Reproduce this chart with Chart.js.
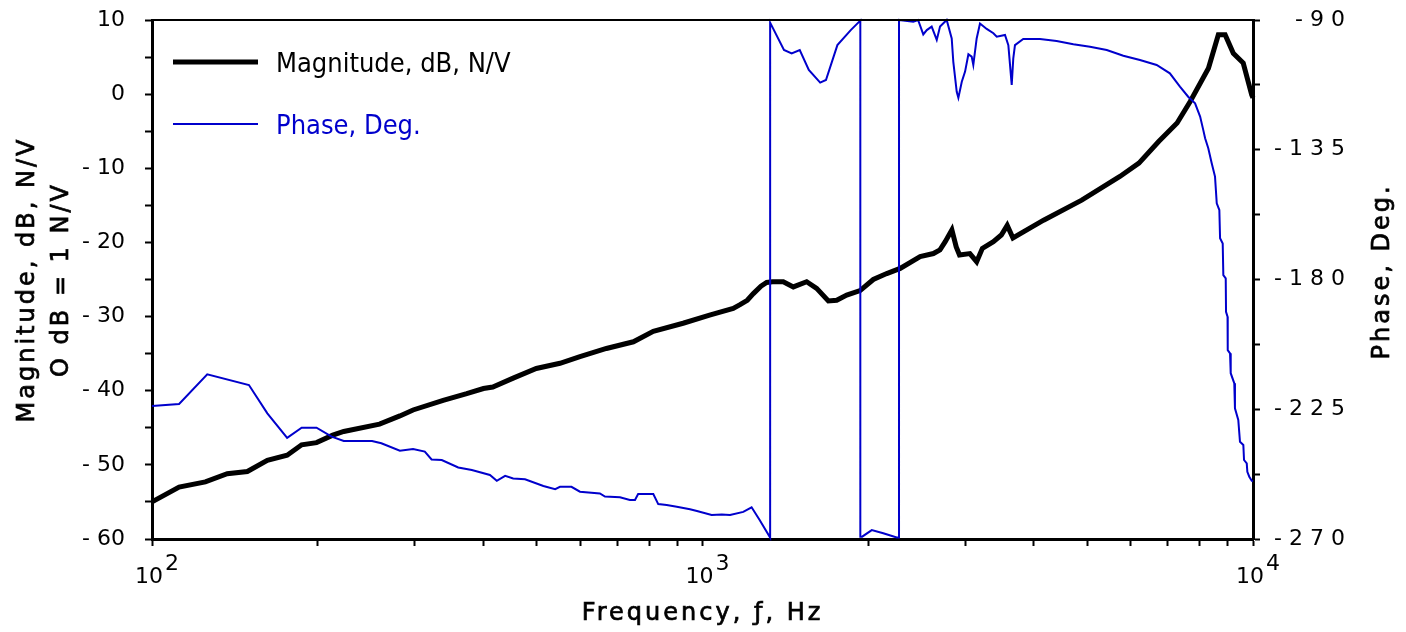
<!DOCTYPE html>
<html>
<head>
<meta charset="utf-8">
<title>Magnitude and phase response</title>
<script src="https://cdn.jsdelivr.net/npm/chart.js@4.4.1/dist/chart.umd.min.js"></script>
<style>
  html, body { margin: 0; padding: 0; background: #fff; }
  #wrap { width: 1406px; height: 632px; }
</style>
</head>
<body>
<div id="wrap"><canvas id="bode" width="1406" height="632"></canvas></div>
<script>
// measured frequency response, force per volt of drive
const magFreqHz = [100, 112, 125, 137, 149, 162, 176, 187, 199, 213, 223, 259, 282, 298, 338, 373, 400, 416, 453, 499,
  551, 599, 669, 749, 814, 922, 1030, 1137, 1170, 1206, 1237, 1277, 1308, 1340, 1402, 1462, 1546, 1612, 1693, 1753,
  1828, 1933, 2043, 2161, 2286, 2485, 2627, 2700, 2760, 2838, 2890, 2930, 3060, 3148, 3224, 3376, 3490, 3577, 3664,
  4165, 4885, 5731, 6206, 6740, 7280, 7690, 8300, 8650, 8900, 9209, 9600, 9947, 10000]
const magnitudeDb = [-55.0, -53.0, -52.3, -51.2, -50.9, -49.4, -48.7, -47.3, -47.0, -46.0, -45.5, -44.5, -43.4, -42.6,
  -41.3, -40.4, -39.7, -39.5, -38.3, -37.0, -36.3, -35.4, -34.3, -33.4, -32.0, -30.9, -29.8, -28.9, -28.4, -27.8,
  -26.9, -25.9, -25.4, -25.3, -25.3, -26.0, -25.3, -26.2, -27.9, -27.8, -27.1, -26.5, -25.0, -24.2, -23.5, -21.9,
  -21.5, -21.0, -19.9, -18.3, -20.6, -21.7, -21.5, -22.6, -20.8, -19.9, -19.0, -17.7, -19.4, -17.0, -14.3, -11.1,
  -9.3, -6.4, -3.9, -1.0, 3.5, 8.0, 8.0, 5.5, 4.2, -0.1, -0.5]

// phase wraps at -270/-90, hence the repeated frequencies
const phaseFreqHz = [100, 112, 126, 150, 162, 176, 187, 199, 212, 223, 251, 261, 282, 298, 313, 322, 336, 360, 381,
  411, 423, 438, 453, 476, 514, 540, 551, 578, 599, 651, 665, 708, 738, 754, 764, 814, 831, 861, 898, 949, 977, 1039,
  1084, 1122, 1186, 1228, 1270, 1327, 1327, 1406, 1452, 1502, 1560, 1636, 1676, 1758, 1859, 1935, 1935, 1950, 2030,
  2130, 2253, 2275, 2275, 2415, 2464, 2518, 2555, 2608, 2664, 2701, 2777, 2836, 2855, 2896, 2916, 2958, 2999, 3041,
  3083, 3104, 3148, 3192, 3283, 3376, 3424, 3544, 3594, 3645, 3669, 3695, 3825, 4102, 4398, 4717, 5057, 5424, 5813,
  6232, 6683, 7063, 7367, 7625, 7848, 8016, 8123, 8185, 8294, 8414, 8531, 8593, 8687, 8713, 8810, 8833, 8922, 8933,
  8990, 8997, 9084, 9110, 9247, 9273, 9403, 9470, 9604, 9632, 9742, 9766, 9846, 9947, 10000]
const phaseDeg = [-223.9, -223.2, -212.9, -216.6, -226.4, -234.9, -231.4, -231.4, -234.5, -236.0, -236.0, -236.8,
  -239.4, -238.8, -239.7, -242.4, -242.6, -245.2, -246.1, -247.8, -249.8, -248.1, -249.0, -249.3, -251.6, -252.7,
  -251.9, -251.9, -253.6, -254.2, -255.3, -255.5, -256.5, -256.5, -254.4, -254.4, -257.9, -258.2, -258.8, -259.7,
  -260.3, -261.7, -261.5, -261.7, -260.6, -259.0, -263.4, -269.5, -90.9, -100.4, -101.6, -100.4, -107.3, -111.7,
  -110.8, -98.7, -93.5, -90.2, -269.2, -269.2, -266.9, -268.0, -269.5, -269.5, -90.0, -90.6, -90.0, -95.0, -93.5,
  -92.3, -96.9, -92.3, -90.0, -96.4, -104.5, -114.9, -117.0, -111.4, -107.9, -101.9, -102.7, -105.6, -96.4, -91.2,
  -93.1, -94.6, -95.8, -95.2, -98.7, -112.5, -103.3, -98.7, -96.6, -96.6, -97.3, -98.4, -99.3, -100.4, -102.4,
  -103.9, -105.6, -108.5, -113.1, -116.6, -118.9, -123.5, -128.2, -131.0, -134.5, -139.7, -144.3, -153.6, -155.9,
  -165.7, -167.5, -178.5, -179.6, -191.2, -192.9, -204.5, -205.6, -212.5, -216.0, -224.7, -228.7, -236.3, -237.4,
  -242.6, -243.8, -246.7, -248.4, -249.8, -250.0]

const freqTicks = [100, 200, 300, 400, 500, 600, 700, 800, 900, 1000, 2000, 3000, 4000, 5000, 6000, 7000, 8000, 9000, 10000]
const magTitle = ['Magnitude, dB, N/V', 'O dB = 1 N/V']
const phaseTitle = 'Phase, Deg.'
const freqTitle = 'Frequency, \u0192, Hz'

const BLUE = '#0000cc'
const tickFont = { family: '"DejaVu Sans", Verdana, sans-serif', size: 22 }
const titleFont = '24px "DejaVu Sans", Verdana, sans-serif'
const legendFont = '27px "DejaVu Sans Condensed", "Liberation Sans", sans-serif'

const pairs = (xs, ys) => xs.map((x, i) => ({ x: x, y: ys[i] }))

// extra letter spacing for the tick labels of some axes
const tickSpacing = { y2: '7px' }

// slightly heavier text: fill plus a thin outline
function heavyText(ctx, text, x, y) {
  ctx.fillText(text, x, y)
  ctx.strokeText(text, x, y)
}

const decor = {
  id: 'decor',
  beforeDraw(chart) {
    for (const id in tickSpacing) {
      const scale = chart.scales[id]
      if (!scale || scale._spaced) continue
      const draw = scale.drawLabels.bind(scale)
      scale.drawLabels = (area) => {
        const c = scale.ctx
        c.save()
        c.letterSpacing = tickSpacing[id]
        draw(area)
        c.restore()
      }
      scale._spaced = true
    }
  },
  afterDraw(chart) {
    const { ctx, chartArea: a, scales } = chart
    ctx.save()

    // close the box along the top
    ctx.strokeStyle = '#000'
    ctx.lineWidth = 2
    ctx.beginPath()
    ctx.moveTo(a.left - 1, a.top)
    ctx.lineTo(a.right + 1, a.top)
    ctx.stroke()

    // decade labels 10^n under the log axis
    ctx.fillStyle = '#000'
    ctx.font = '22px "DejaVu Sans", Verdana, sans-serif'
    ctx.textBaseline = 'alphabetic'
    ctx.textAlign = 'left'
    scales.x.ticks.forEach(t => {
      const p = Math.log10(t.value)
      if (Math.abs(p - Math.round(p)) > 1e-9) return
      const x = scales.x.getPixelForValue(t.value)
      const base = '10', sup = String(Math.round(p))
      const wb = ctx.measureText(base).width
      const ws = ctx.measureText(sup).width
      const left = x + 5 - (wb + ws + 2) / 2
      ctx.fillText(base, left, a.bottom + 44)
      ctx.fillText(sup, left + wb + 2, a.bottom + 31)
    })

    // axis titles
    ctx.font = titleFont
    ctx.letterSpacing = '3px'
    ctx.lineWidth = 0.7
    ctx.strokeStyle = '#000'
    ctx.textAlign = 'center'
    heavyText(ctx, freqTitle, (a.left + a.right) / 2, 620)

    const midY = (a.top + a.bottom) / 2
    const upright = [[magTitle[0], 34, midY], [magTitle[1], 68, midY], [phaseTitle, 1389, midY - 8]]
    upright.forEach(([text, x, y]) => {
      ctx.save()
      ctx.translate(x, y)
      ctx.rotate(-Math.PI / 2)
      heavyText(ctx, text, 0, 0)
      ctx.restore()
    })

    // legend in the upper left of the plot
    ctx.letterSpacing = '0px'
    ctx.font = legendFont
    ctx.textAlign = 'left'
    const rows = [chart.data.datasets[1], chart.data.datasets[0]]
    rows.forEach((ds, i) => {
      const y = 62 + i * 62
      ctx.strokeStyle = ds.borderColor
      ctx.lineWidth = ds.borderWidth
      ctx.beginPath()
      ctx.moveTo(173, y)
      ctx.lineTo(258, y)
      ctx.stroke()
      ctx.fillStyle = ds.borderColor
      ctx.fillText(ds.label, 276, y + 10)
    })
    ctx.restore()
  }
}

new Chart(document.getElementById('bode'), {
  type: 'line',
  data: {
    datasets: [
      {
        label: 'Phase, Deg.',
        data: pairs(phaseFreqHz, phaseDeg),
        yAxisID: 'y2',
        borderColor: BLUE,
        borderWidth: 2,
        clip: false
      },
      {
        label: 'Magnitude, dB, N/V',
        data: pairs(magFreqHz, magnitudeDb),
        yAxisID: 'y',
        borderColor: '#000',
        borderWidth: 5,
        borderJoinStyle: 'miter',
        clip: false
      }
    ]
  },
  options: {
    responsive: false,
    animation: false,
    devicePixelRatio: 1,
    layout: { padding: { left: 80, right: 54, top: 20, bottom: 0 } },
    elements: { point: { radius: 0 }, line: { tension: 0, fill: false } },
    plugins: { legend: { display: false }, tooltip: { enabled: false } },
    scales: {
      x: {
        type: 'logarithmic',
        position: 'bottom',
        min: 100,
        max: 10000,
        ticks: { display: false },
        grid: { drawOnChartArea: false, drawTicks: true, tickLength: 7, tickWidth: 2, color: '#000' },
        border: { color: '#000', width: 3 },
        afterBuildTicks: s => { s.ticks = freqTicks.map(v => ({ value: v })) },
        afterFit: s => { s.height = 93; s.paddingLeft = 0; s.paddingRight = 0 }
      },
      y: {
        type: 'linear',
        position: 'left',
        min: -60,
        max: 10,
        ticks: {
          stepSize: 5,
          color: '#000',
          font: tickFont,
          padding: 20,
          callback: v => v % 10 !== 0 ? '' : (v < 0 ? '- ' + Math.abs(v) : String(v))
        },
        grid: { drawOnChartArea: false, tickLength: 7, tickWidth: 2, color: '#000' },
        border: { color: '#000', width: 3 },
        afterFit: s => { s.width = 72; s.paddingTop = 0; s.paddingBottom = 0 }
      },
      y2: {
        type: 'linear',
        position: 'right',
        min: -270,
        max: -90,
        ticks: {
          stepSize: 22.5,
          color: '#000',
          font: tickFont,
          crossAlign: 'far',
          callback: v => (v + 90) % 45 === 0 ? String(v) : ''
        },
        grid: { drawOnChartArea: false, tickLength: 7, tickWidth: 2, color: '#000' },
        border: { color: '#000', width: 3 },
        afterFit: s => { s.width = 99; s.paddingTop = 0; s.paddingBottom = 0 }
      }
    }
  },
  plugins: [decor]
})
</script>
</body>
</html>
